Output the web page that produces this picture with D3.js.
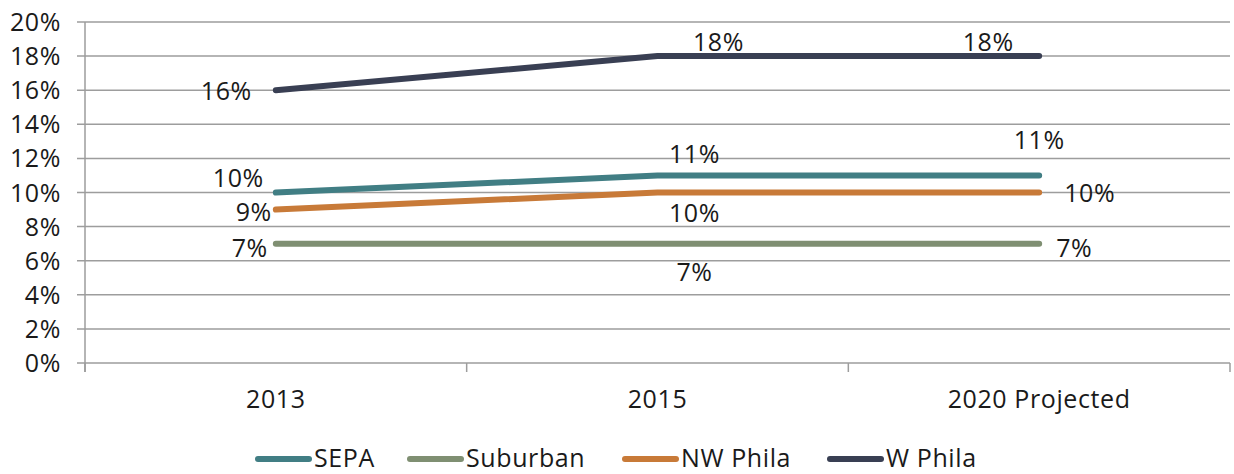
<!DOCTYPE html>
<html><head><meta charset="utf-8">
<script src="https://cdn.jsdelivr.net/npm/d3@7/dist/d3.min.js"></script>
<style>body{margin:0;background:#fff}svg{display:block}text{font-family:"Open Sans",sans-serif;fill:#1a1a1a;letter-spacing:0.6px}</style>
</head><body>
<svg id="c" width="1234" height="474"></svg>
<script>
const categories = ["2013", "2015", "2020 Projected"];
const seriesNames = ["SEPA", "Suburban", "NW Phila", "W Phila"];
const sepa = [10, 11, 11];
const suburban = [7, 7, 7];
const nwPhila = [9, 10, 10];
const wPhila = [16, 18, 18];
const yTicks = [0, 2, 4, 6, 8, 10, 12, 14, 16, 18, 20];
const colors = ["#417E84", "#7F8F72", "#C87A38", "#393F53"];
// label offsets relative to point [dx, dy, anchor]
const labelOffsets = [
  [[-12, -15, "end"], [37, -21, "middle"], [0, -35, "middle"]],
  [[-8, 4, "end"], [37, 28, "middle"], [17, 4, "start"]],
  [[-4, 2, "end"], [37, 20, "middle"], [25, 0, "start"]],
  [[-24, 1, "end"], [61, -14, "middle"], [-51, -14, "middle"]]
];
const data = [sepa, suburban, nwPhila, wPhila];

const svg = d3.select("#c");
const m = {l: 85, r: 1230, t: 22, b: 363};
const x = d3.scaleBand().domain(categories).range([m.l, m.r]);
const y = d3.scaleLinear().domain([0, 20]).range([m.b, m.t]);
const FS = 25;

svg.append("g").selectAll("line").data(yTicks).join("line")
  .attr("x1", m.l - 8).attr("x2", m.r).attr("y1", d => y(d)).attr("y2", d => y(d))
  .attr("stroke", "#9d9d9d").attr("stroke-width", 1.5);
svg.append("line").attr("x1", m.l).attr("x2", m.l).attr("y1", m.t).attr("y2", m.b + 9)
  .attr("stroke", "#9d9d9d").attr("stroke-width", 1.5);
const bounds = categories.map(c => x(c)).concat([m.r]);
svg.append("g").selectAll("line").data(bounds).join("line")
  .attr("x1", d => d).attr("x2", d => d).attr("y1", m.b).attr("y2", m.b + 9)
  .attr("stroke", "#9d9d9d").attr("stroke-width", 1.5);
svg.append("g").selectAll("text").data(yTicks).join("text")
  .attr("x", 61).attr("y", d => y(d)).attr("dy", "0.36em").attr("text-anchor", "end")
  .attr("font-size", FS).text(d => d + "%");
svg.append("g").selectAll("text").data(categories).join("text")
  .attr("x", d => x(d) + x.bandwidth() / 2).attr("y", 408).attr("text-anchor", "middle")
  .attr("font-size", FS).text(d => d);

const line = d3.line().x((d, i) => x(categories[i]) + x.bandwidth() / 2).y(d => y(d));
data.forEach((s, k) => {
  svg.append("path").datum(s).attr("d", line).attr("fill", "none")
    .attr("stroke", colors[k]).attr("stroke-width", 6).attr("stroke-linecap", "round")
    .attr("stroke-linejoin", "round");
});
data.forEach((s, k) => {
  svg.append("g").selectAll("text").data(s).join("text")
    .attr("x", (d, i) => x(categories[i]) + x.bandwidth() / 2 + labelOffsets[k][i][0])
    .attr("y", (d, i) => y(d) + labelOffsets[k][i][1])
    .attr("dy", "0.36em").attr("text-anchor", (d, i) => labelOffsets[k][i][2])
    .attr("font-size", FS).text(d => d + "%");
});

const legX = [255, 407, 622, 827];
const lg = svg.append("g").selectAll("g").data(seriesNames).join("g")
  .attr("transform", (d, i) => `translate(${legX[i]},459)`);
lg.append("line").attr("x1", 3).attr("x2", 54).attr("y1", 0).attr("y2", 0)
  .attr("stroke", (d, i) => colors[i]).attr("stroke-width", 6).attr("stroke-linecap", "round");
lg.append("text").attr("x", 59).attr("y", 8).attr("font-size", FS).text(d => d);
</script>
</body></html>
